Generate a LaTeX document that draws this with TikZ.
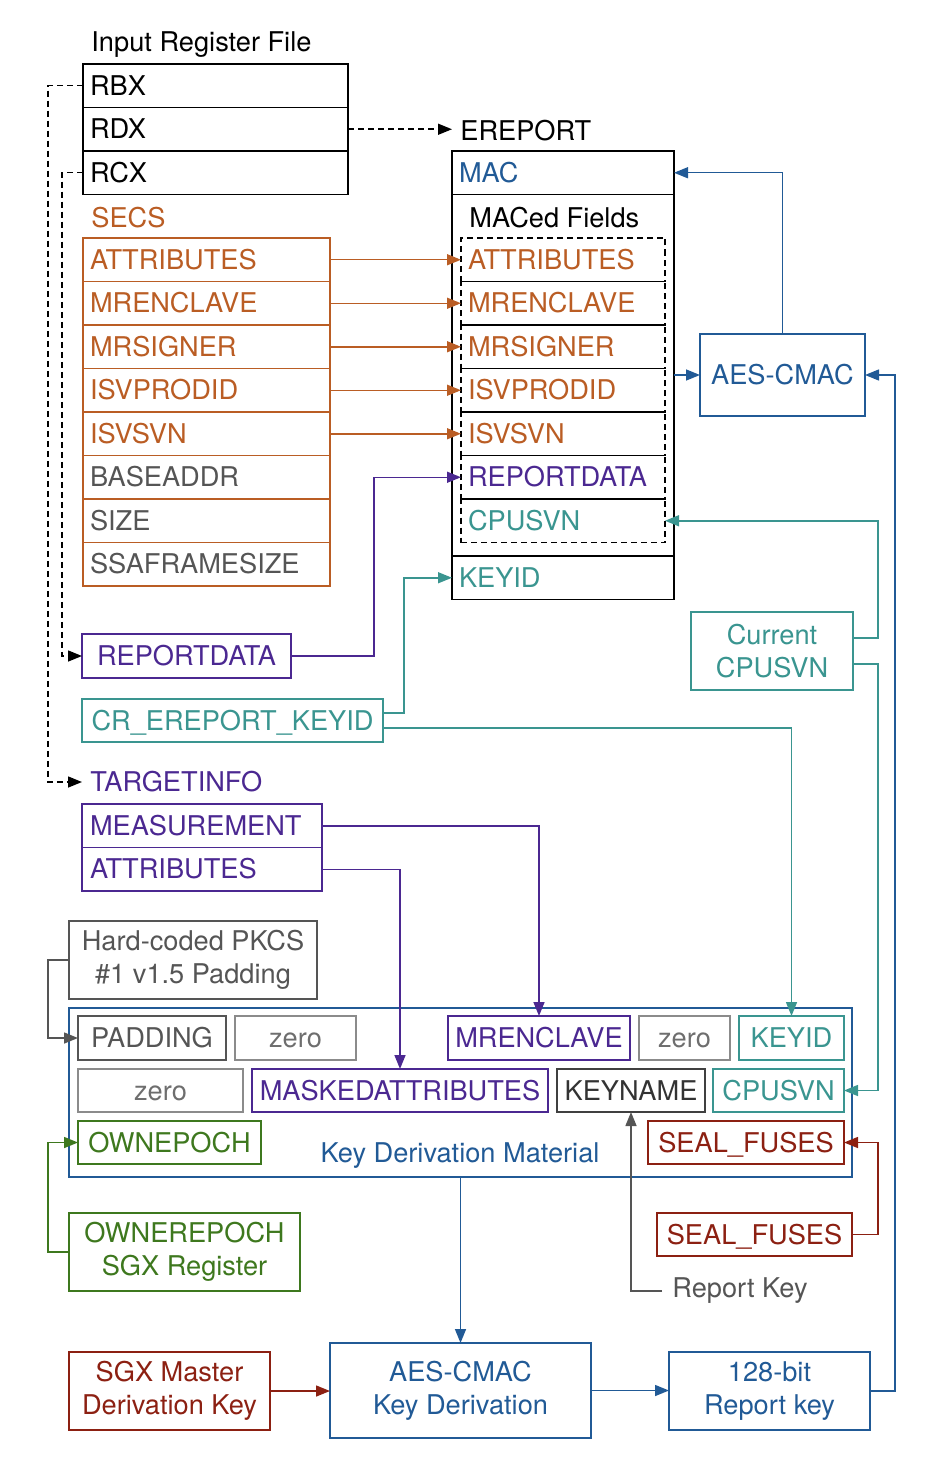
\documentclass[tikz,border=0pt]{standalone}
\usepackage{fontspec}
\setmainfont{TeX Gyre Heros}
\usetikzlibrary{arrows.meta,positioning}
\definecolor{secsorange}{RGB}{186,93,36}
\definecolor{tipurple}{RGB}{75,40,145}
\definecolor{svnteal}{RGB}{58,149,144}
\definecolor{cmacblue}{RGB}{33,90,150}
\definecolor{epochgreen}{RGB}{62,120,30}
\definecolor{fusered}{RGB}{140,32,18}
\definecolor{padgray}{RGB}{85,85,85}
\definecolor{zerogray}{RGB}{110,110,110}

\begin{document}
\begin{tikzpicture}[x=0.5pt,y=0.5pt,yscale=-1,xscale=1,
  every node/.style={font=\fontsize{13.6}{16.5}\selectfont},
  fld/.style={draw, anchor=north west, outer sep=0pt, inner xsep=3.5pt, inner ysep=0pt, align=left, minimum height=21.75pt, text height=9.7pt, text depth=0pt},
  reg/.style={fld, line width=0.9pt, text width=125.5pt},
  secsrow/.style={fld, draw=secsorange, line width=0.7pt, text width=116.5pt},
  mfrow/.style={fld, dashed, dash pattern=on 3pt off 2pt, line width=0.7pt, text width=95pt},
  cell/.style={draw, outer sep=0pt, inner sep=0pt, line width=0.7pt, minimum width=#1, minimum height=22pt, text height=9.7pt, text depth=0pt},
  blk/.style 2 args={draw, outer sep=0pt, inner sep=0pt, line width=0.7pt, align=center, minimum width=#1, minimum height=#2},
  arr/.style={-{Triangle[length=7pt,width=5.5pt]}, line width=0.75pt},
  dsh/.style={arr, dash pattern=on 3pt off 2pt}]
\useasboundingbox (0,0) rectangle (936,1466);

% Text Node
\node [anchor=west, inner xsep=4pt] (irf) at (83,45) {Input Register File};
%Shape: Rectangle
\node [reg] (rbx) at (83,64) {RBX};
\node [reg, below=0pt of rbx] (rdx) {RDX};
\node [reg, below=0pt of rdx] (rcx) {RCX};

% Text Node
\node [anchor=west, inner xsep=4pt] (erep) at (452,131) {EREPORT};
%Shape: Rectangle
\node [fld, line width=0.9pt, text width=104pt, text=cmacblue] (mac) at (452,151) {MAC};
\node [draw, line width=0.9pt, outer sep=0pt, inner sep=0pt, minimum width=111pt, minimum height=180.75pt, below=0pt of mac] (macfld) {};
\node [fld, line width=0.9pt, text width=104pt, text=svnteal, below=0pt of macfld] (ekeyid) {KEYID};
% Text Node
\node [anchor=west, inner xsep=0pt] (mactxt) at (469,218) {MACed Fields};
%Shape: Rectangle
\node [mfrow, text=secsorange] (mfatt) at (461,238) {ATTRIBUTES};
\node [mfrow, text=secsorange, below=0pt of mfatt] (mfmre) {MRENCLAVE};
\node [mfrow, text=secsorange, below=0pt of mfmre] (mfsig) {MRSIGNER};
\node [mfrow, text=secsorange, below=0pt of mfsig] (mfpro) {ISVPRODID};
\node [mfrow, text=secsorange, below=0pt of mfpro] (mfsvn) {ISVSVN};
\node [mfrow, text=tipurple, below=0pt of mfsvn] (mfrd) {REPORTDATA};
\node [mfrow, text=svnteal, below=0pt of mfrd] (mfcpu) {CPUSVN};

% Text Node
\node [anchor=west, inner xsep=4pt, text=secsorange] (secs) at (83,218) {SECS};
%Shape: Rectangle
\node [secsrow, text=secsorange] (satt) at (83,238) {ATTRIBUTES};
\node [secsrow, text=secsorange, below=0pt of satt] (smre) {MRENCLAVE};
\node [secsrow, text=secsorange, below=0pt of smre] (ssig) {MRSIGNER};
\node [secsrow, text=secsorange, below=0pt of ssig] (spro) {ISVPRODID};
\node [secsrow, text=secsorange, below=0pt of spro] (ssvn) {ISVSVN};
\node [secsrow, text=padgray, below=0pt of ssvn] (sbase) {BASEADDR};
\node [secsrow, text=padgray, below=0pt of sbase] (ssize) {SIZE};
\node [secsrow, text=padgray, below=0pt of ssize] (sssa) {SSAFRAMESIZE};

%Shape: Rectangle
\node [blk={82.5pt}{41pt}, draw=cmacblue, text=cmacblue] (cmac) at (782.5,375) {AES-CMAC};
\node [cell=104.5pt, draw=tipurple, text=tipurple] (rdata) at (186.5,656) {REPORTDATA};
\node [cell=150.5pt, minimum height=21.5pt, draw=svnteal, text=svnteal] (crk) at (232.5,720.5) {CR\_EREPORT\_KEYID};
\node [blk={81pt}{39pt}, draw=svnteal, text=svnteal] (ccpu) at (772,651) {Current\\CPUSVN};

% Text Node
\node [anchor=west, inner xsep=4pt, text=tipurple] (tinfo) at (82,782) {TARGETINFO};
%Shape: Rectangle
\node [fld, draw=tipurple, text=tipurple, line width=0.7pt, inner xsep=4pt, text width=112pt] (meas) at (82,804) {MEASUREMENT};
\node [fld, draw=tipurple, text=tipurple, line width=0.7pt, inner xsep=4pt, text width=112pt, below=0pt of meas] (tatt) {ATTRIBUTES};

\node [blk={124pt}{39pt}, draw=padgray, text=padgray] (pkcs) at (193,960) {Hard-coded PKCS\\\#1 v1.5 Padding};

%Shape: Rectangle
\node [blk={391.5pt}{84.5pt}, draw=cmacblue, line width=0.8pt] (kdm) at (460.5,1092.5) {};
% Text Node
\node [text=cmacblue] (kdmtxt) at (460,1156) {Key Derivation Material};
\node [cell=74pt, draw=padgray, text=padgray] (kpad) at (152,1038) {PADDING};
\node [cell=60.5pt, draw=zerogray!80, text=zerogray] (kzeroa) at (295.5,1038) {zero};
\node [cell=91pt, draw=tipurple, text=tipurple] (kmre) at (539,1038) {MRENCLAVE};
\node [cell=45.5pt, draw=zerogray!80, text=zerogray] (kzerob) at (684.5,1038) {zero};
\node [cell=52.5pt, draw=svnteal, text=svnteal] (kkeyid) at (791.5,1038) {KEYID};
\node [cell=82.5pt, minimum height=21.5pt, draw=zerogray!80, text=zerogray] (kzeroc) at (160.5,1090.5) {zero};
\node [cell=148pt, minimum height=21.5pt, draw=tipurple, text=tipurple] (kmask) at (400,1090.5) {MASKEDATTRIBUTES};
\node [cell=74pt, minimum height=21.5pt, draw=black!75, text=black!80] (kname) at (631,1090.5) {KEYNAME};
\node [cell=65.5pt, minimum height=21.5pt, draw=svnteal, text=svnteal] (kcpu) at (778.5,1090.5) {CPUSVN};
\node [cell=91.5pt, minimum height=21.5pt, draw=epochgreen, text=epochgreen] (kown) at (169.5,1142.5) {OWNEPOCH};
\node [cell=98pt, minimum height=21.5pt, draw=fusered, text=fusered] (kseal) at (746,1142.5) {SEAL\_FUSES};

%Shape: Rectangle
\node [blk={115.5pt}{39pt}, draw=epochgreen, text=epochgreen] (oreg) at (184.5,1252) {OWNEREPOCH\\SGX Register};
\node [cell=97.5pt, minimum height=21.5pt, draw=fusered, text=fusered] (oseal) at (754.5,1234.5) {SEAL\_FUSES};
% Text Node
\node [anchor=west, inner xsep=5pt, text=padgray] (rk) at (662,1291) {Report Key};
%Shape: Rectangle
\node [blk={130.5pt}{47.5pt}, draw=cmacblue, text=cmacblue] (aeskd) at (460.5,1390.5) {AES-CMAC\\Key Derivation};
\node [blk={100.5pt}{39pt}, draw=fusered, text=fusered] (master) at (169.5,1391) {SGX Master\\Derivation Key};
\node [blk={100.5pt}{39pt}, draw=cmacblue, text=cmacblue] (rkey) at (769.5,1391) {128-bit\\Report key};

%Straight Lines
\draw [dsh] (rbx.west) -- ++(-35,0) |- (tinfo.west);
\draw [dsh] (rcx.west) -- ++(-21,0) |- (rdata.west);
\draw [dsh] (rdx.east) -- (rdx.east -| erep.west);

\draw [arr, secsorange] (satt.east) -- (mfatt.west);
\draw [arr, secsorange] (smre.east) -- (mfmre.west);
\draw [arr, secsorange] (ssig.east) -- (mfsig.west);
\draw [arr, secsorange] (spro.east) -- (mfpro.west);
\draw [arr, secsorange] (ssvn.east) -- (mfsvn.west);

\draw [arr, cmacblue] (cmac.west -| macfld.east) -- (cmac.west);
\draw [arr, cmacblue] (cmac.north) |- (mac.east);
\draw [arr, cmacblue] (rkey.east) -- ++(25,0) |- (cmac.east);
\draw [arr, cmacblue] (kdm.south) -- (aeskd.north);
\draw [arr, cmacblue] (aeskd.east) -- (aeskd.east -| rkey.west);
\draw [arr, fusered] (master.east) -- (master.east -| aeskd.west);

\draw [arr, tipurple] (rdata.east) -- ++(83,0) |- (mfrd.west);
\draw [arr, tipurple] (meas.east) -| (kmre.north);
\draw [arr, tipurple] (tatt.east) -| (kmask.north);

\draw [arr, svnteal] ([yshift=-3.75pt]crk.east) -- ++(21,0) |- (ekeyid.west);
\draw [arr, svnteal] ([yshift=3.75pt]crk.east) -| (kkeyid.north);
\draw [arr, svnteal] ([yshift=-6.5pt]ccpu.east) -- ++(25,0) |- (mfcpu.east);
\draw [arr, svnteal] ([yshift=6.5pt]ccpu.east) -- ++(25,0) |- (kcpu.east);

\draw [arr, padgray] (pkcs.west) -- ++(-21,0) |- (kpad.west);
\draw [arr, padgray] (rk.west) -| (kname.south);
\draw [arr, epochgreen] (oreg.west) -- ++(-21,0) |- (kown.west);
\draw [arr, fusered] (oseal.east) -- ++(26,0) |- (kseal.east);

\end{tikzpicture}
\end{document}
